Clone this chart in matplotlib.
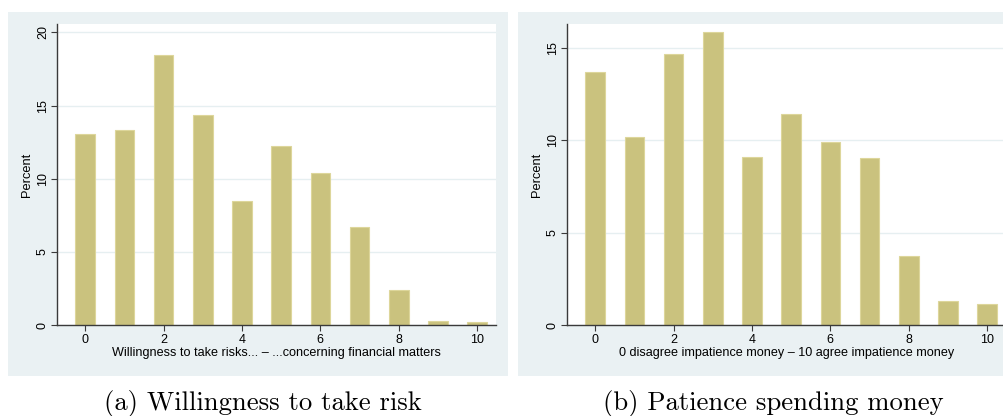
import numpy as np
import matplotlib
matplotlib.use("Agg")
import matplotlib.pyplot as plt
from matplotlib.patches import Rectangle

# Datos (porcentaje por categoría 0-10)
categorias = np.arange(11)
riesgo_pct = [13.06, 13.35, 18.45, 14.35, 8.48, 12.26, 10.42, 6.73, 2.41, 0.30, 0.25]
paciencia_pct = [13.71, 10.18, 14.65, 15.85, 9.10, 11.42, 9.91, 9.04, 3.75, 1.31, 1.17]

xlabel_a = "Willingness to take risks... \u2013 ...concerning financial matters"
xlabel_b = "0 disagree impatience money \u2013 10 agree impatience money"
caption_a = "(a) Willingness to take risk"
caption_b = "(b) Patience spending money"

W, H = 1004, 416
fondo = "#eaf1f3"
barra = "#cac27e"
borde = "#ddd69b"

fig = plt.figure(figsize=(W / 100, H / 100), dpi=100)
plt.rcParams["font.family"] = ["Liberation Sans", "DejaVu Sans"]


def px(x0, y0, x1, y1):
    # caja en pixeles (origen arriba-izquierda) -> fracción de figura
    return [x0 / W, 1 - y1 / H, (x1 - x0) / W, (y1 - y0) / H]


# fondos grises de cada panel
for x0, x1 in [(8, 508), (518, 1030)]:
    r = px(x0, 12, x1, 376)
    fig.patches.append(Rectangle((r[0], r[1]), r[2], r[3], transform=fig.transFigure,
                                 facecolor=fondo, edgecolor="none", zorder=-5))

paneles = [
    (px(57.3, 24, 496, 325.3), riesgo_pct, 20.57, [0, 5, 10, 15, 20], xlabel_a, caption_a, 263),
    (px(567.3, 24, 1006, 325.3), paciencia_pct, 16.28, [0, 5, 10, 15], xlabel_b, caption_b, 773),
]

for pos, valores, ytop, yticks, xlab, cap, capx in paneles:
    ax = fig.add_axes(pos)
    ax.set_facecolor("white")
    ax.bar(categorias, valores, width=0.5, color=barra, edgecolor=borde, linewidth=0.8, zorder=2)
    ax.set_xlim(-0.71, 10.48)
    ax.set_ylim(0, ytop)
    ax.set_yticks(yticks)
    ax.set_xticks([0, 2, 4, 6, 8, 10])
    ax.grid(axis="y", color="#e6eff1", linewidth=1.0, zorder=1)
    ax.set_axisbelow(True)
    for s in ["top", "right"]:
        ax.spines[s].set_visible(False)
    for s in ["left", "bottom"]:
        ax.spines[s].set_color("#3a3a3a")
        ax.spines[s].set_linewidth(1.0)
    ax.tick_params(axis="both", length=4, width=0.8, color="#3a3a3a", labelsize=9, pad=2)
    plt.setp(ax.get_yticklabels(), rotation=90, va="center")
    ax.set_ylabel("Percent", fontsize=9.3, labelpad=3)
    ax.set_xlabel(xlab, fontsize=9.1, labelpad=1)
    fig.text(capx / W, 1 - 410 / H, cap, family="cmr10", fontsize=19.2, ha="center", va="baseline")

fig.savefig("out.png", dpi=100)
